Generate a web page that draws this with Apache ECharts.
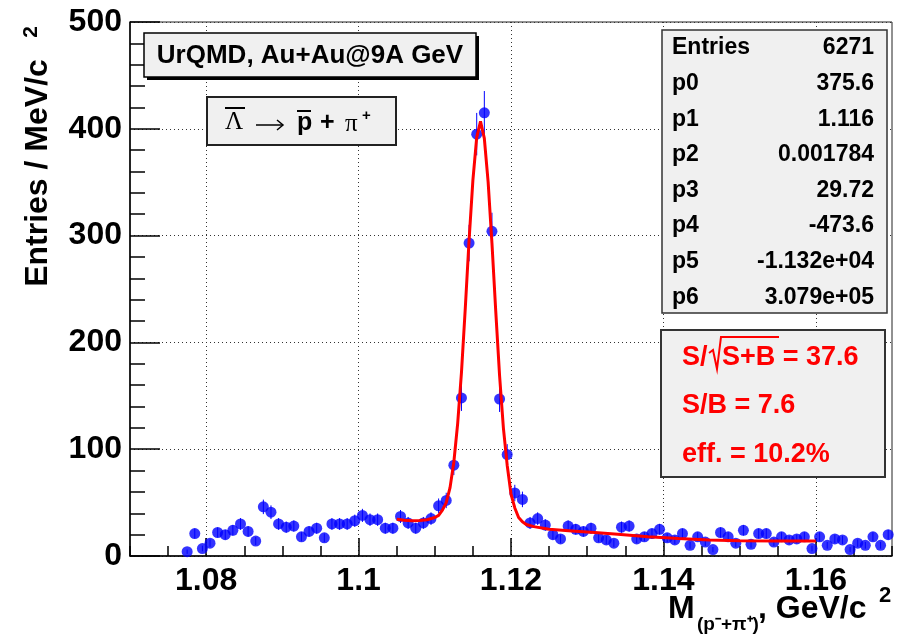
<!DOCTYPE html>
<html><head><meta charset="utf-8">
<script src="https://cdn.jsdelivr.net/npm/echarts@6/dist/echarts.min.js"></script>
<style>html,body{margin:0;padding:0;background:#fff}#c{width:897px;height:642px}</style>
</head><body><div id="c"></div>
<script>
// ---- data ----
const binCenters = [1.0775,1.0785,1.0795,1.0805,1.0815,1.0825,1.0835,1.0845,1.0855,1.0865,
  1.0875,1.0885,1.0895,1.0905,1.0915,1.0925,1.0935,1.0945,1.0955,1.0965,
  1.0975,1.0985,1.0995,1.1005,1.1015,1.1025,1.1035,1.1045,1.1055,1.1065,
  1.1075,1.1085,1.1095,1.1105,1.1115,1.1125,1.1135,1.1145,1.1155,1.1165,
  1.1175,1.1185,1.1195,1.1205,1.1215,1.1225,1.1235,1.1245,1.1255,1.1265,
  1.1275,1.1285,1.1295,1.1305,1.1315,1.1325,1.1335,1.1345,1.1355,1.1365,
  1.1375,1.1385,1.1395,1.1405,1.1415,1.1425,1.1435,1.1445,1.1455,1.1465,
  1.1475,1.1485,1.1495,1.1505,1.1515,1.1525,1.1535,1.1545,1.1555,1.1565,
  1.1575,1.1585,1.1595,1.1605,1.1615,1.1625,1.1635,1.1645,1.1655,1.1665,
  1.1675,1.1685,1.1695];
const entries = [4,21,7,12,22,20,24,30,23,14,
  46,41,30,27,28,18,23,26,17,30,
  30,30,33,38,34,34,26,26,37,31,
  26,31,35,47,52,85,148,293,395,415,
  304,147,95,59,53,31,35,29,20,16,
  28,25,23,26,17,15,12,27,28,16,
  18,21,25,17,15,21,10,18,13,6,
  22,18,12,24,11,21,21,13,18,15,
  16,18,7,18,10,16,15,6,12,10,
  18,10,20];
const fitX = [1.105,1.106,1.107,1.108,1.109,1.110,1.1105,1.111,1.1115,1.112,1.1125,1.113,1.1135,1.114,1.1145,
  1.115,1.1155,1.116,1.1165,1.117,1.1175,1.118,1.1185,1.119,1.1195,1.120,1.1205,1.121,1.1215,1.122,
  1.123,1.125,1.128,1.131,1.134,1.138,1.142,1.146,1.150,1.155,1.160];
const fitY = [34.5,33.5,33,33.2,34,36,38,43,50,64,88,124,172,232,296,
  352,392,407,391,350,293,229,169,120,85,58,45,36,32,29.5,
  27.5,25,23.5,22,20.3,18,16.3,15,14.2,14,14];
const xMajorTicks = [1.08,1.10,1.12,1.14,1.16];
const xMajorLabels = ['1.08','1.1','1.12','1.14','1.16'];
const statsNames = ['Entries','p0','p1','p2','p3','p4','p5','p6'];
const statsValues = ['6271','375.6','1.116','0.001784','29.72','-473.6','-1.132e+04','3.079e+05'];
const sbLines = ['S/B = 7.6','eff. = 10.2%'];

const F = '"Liberation Sans", Arial, Helvetica, sans-serif';
const chart = echarts.init(document.getElementById('c'), null, {renderer:'canvas'});
const pts = binCenters.map((x,i)=>[x, entries[i]]);
const fit = fitX.map((x,i)=>[x, fitY[i]]);

const graphics = [];
// Box 1
graphics.push({type:'rect', shape:{x:147,y:36,width:332,height:44}, style:{fill:'#000'}, z:10});
graphics.push({type:'rect', shape:{x:144,y:33,width:332,height:44}, style:{fill:'#f0f0f0',stroke:'#000',lineWidth:1.5}, z:11});
graphics.push({type:'text', x:310, y:56, z:12, style:{text:'UrQMD, Au+Au@9A GeV', font:'bold 26px '+F, fill:'#000', align:'center', verticalAlign:'middle'}});
// Box 2
graphics.push({type:'rect', shape:{x:207,y:97,width:189,height:48}, style:{fill:'#f0f0f0',stroke:'#222',lineWidth:2}, z:11});
graphics.push({type:'text', x:225, y:122, z:12, style:{text:'Λ', font:'25px "Liberation Serif", serif', fill:'#000', align:'left', verticalAlign:'middle'}});
graphics.push({type:'line', shape:{x1:225,y1:108,x2:245,y2:108}, style:{stroke:'#000',lineWidth:2}, z:12});
graphics.push({type:'line', shape:{x1:256,y1:125,x2:283,y2:125}, style:{stroke:'#000',lineWidth:1.5}, z:12});
graphics.push({type:'polyline', shape:{points:[[277,120],[283,125],[277,130]]}, style:{stroke:'#000',lineWidth:1.5,fill:null}, z:12});
graphics.push({type:'text', x:297, y:123, z:12, style:{text:'p', font:'bold 25px '+F, fill:'#000', align:'left', verticalAlign:'middle'}});
graphics.push({type:'line', shape:{x1:297,y1:111,x2:311,y2:111}, style:{stroke:'#000',lineWidth:2}, z:12});
graphics.push({type:'text', x:320, y:123, z:12, style:{text:'+', font:'bold 25px '+F, fill:'#000', align:'left', verticalAlign:'middle'}});
graphics.push({type:'text', x:345, y:124, z:12, style:{text:'π', font:'25px "Liberation Serif", serif', fill:'#000', align:'left', verticalAlign:'middle'}});
graphics.push({type:'text', x:362, y:116, z:12, style:{text:'+', font:'bold 15px '+F, fill:'#000', align:'left', verticalAlign:'middle'}});
// Stats box
graphics.push({type:'rect', shape:{x:662,y:30,width:225,height:283}, style:{fill:'#f0f0f0',stroke:'#333',lineWidth:1.5}, z:11});
statsNames.forEach((n,i)=>{
  const y = 48 + i*35.6;
  graphics.push({type:'text', x:672, y:y, z:12, style:{text:n, font:'bold 23px '+F, fill:'#000', align:'left', verticalAlign:'middle'}});
  graphics.push({type:'text', x:874, y:y, z:12, style:{text:statsValues[i], font:'bold 23px '+F, fill:'#000', align:'right', verticalAlign:'middle'}});
});
// S/B box
graphics.push({type:'rect', shape:{x:661,y:330,width:224,height:147}, style:{fill:'#f0f0f0',stroke:'#333',lineWidth:2}, z:11});
graphics.push({type:'text', x:682, y:358, z:12, style:{text:'S/', font:'bold 27px '+F, fill:'#ff0000', align:'left', verticalAlign:'middle'}});
graphics.push({type:'polyline', shape:{points:[[709,353],[713,350],[717,369],[721,337],[779,337]]}, style:{stroke:'#ff0000',lineWidth:2,fill:null}, z:12});
graphics.push({type:'text', x:722, y:358, z:12, style:{text:'S+B = 37.6', font:'bold 27px '+F, fill:'#ff0000', align:'left', verticalAlign:'middle'}});
sbLines.forEach((t,i)=>{
  graphics.push({type:'text', x:682, y:406 + i*49, z:12, style:{text:t, font:'bold 27px '+F, fill:'#ff0000', align:'left', verticalAlign:'middle'}});
});
// Y title
graphics.push({type:'text', x:38, y:173, rotation:Math.PI/2, z:12, style:{text:'Entries / MeV/c', font:'bold 32px '+F, fill:'#000', align:'center', verticalAlign:'middle'}});
graphics.push({type:'text', x:31, y:32, rotation:Math.PI/2, z:12, style:{text:'2', font:'bold 21px '+F, fill:'#000', align:'center', verticalAlign:'middle'}});
// X title
graphics.push({type:'text', x:668, y:609, z:12, style:{text:'M', font:'bold 32px '+F, fill:'#000', align:'left', verticalAlign:'middle'}});
graphics.push({type:'text', x:697, y:625, z:12, style:{text:'(p⁻+π⁺)', font:'bold 19px '+F, fill:'#000', align:'left', verticalAlign:'middle'}});
graphics.push({type:'text', x:758, y:609, z:12, style:{text:', GeV/c', font:'bold 32px '+F, fill:'#000', align:'left', verticalAlign:'middle'}});
graphics.push({type:'text', x:879, y:596, z:12, style:{text:'2', font:'bold 22px '+F, fill:'#000', align:'left', verticalAlign:'middle'}});

const option = {
  animation:false,
  backgroundColor:'#fff',
  grid:{left:130, right:5, top:22, bottom:86, show:true, borderColor:'#222', borderWidth:1, containLabel:false, outerBoundsMode:'none'},
  xAxis:[{
    type:'value', min:1.07, max:1.17, position:'bottom',
    axisLine:{show:true, onZero:false, lineStyle:{color:'#000', width:1.5}},
    axisTick:{show:true, inside:true, length:18, customValues:xMajorTicks, lineStyle:{color:'#000', width:1.5}},
    axisLabel:{show:true, customValues:xMajorTicks, margin:9, color:'#000', fontSize:32, fontWeight:'bold', fontFamily:F,
      formatter:(v)=>{ const i = xMajorTicks.findIndex(t=>Math.abs(t-v)<1e-6); return i>=0 ? xMajorLabels[i] : ''; }},
    splitLine:{show:true, lineStyle:{type:[1,3], color:'#333', width:1}}
  },{
    type:'value', min:1.07, max:1.17, interval:0.005, position:'bottom',
    axisLine:{show:false, onZero:false},
    axisTick:{show:true, inside:true, length:10, lineStyle:{color:'#000', width:1.5}},
    axisLabel:{show:false}, splitLine:{show:false}
  }],
  yAxis:[{
    type:'value', min:0, max:500, interval:100,
    axisLine:{show:true, onZero:false, lineStyle:{color:'#000', width:1.5}},
    axisTick:{show:true, inside:true, length:30, lineStyle:{color:'#000', width:1.5}},
    minorTick:{show:true, splitNumber:5, length:15, lineStyle:{color:'#000', width:1.5}},
    axisLabel:{show:true, margin:8, color:'#000', fontSize:32, fontWeight:'bold', fontFamily:F},
    splitLine:{show:true, lineStyle:{type:[1,3], color:'#333', width:1}}
  }],
  series:[
    {type:'custom', xAxisIndex:0, yAxisIndex:0, z:3, data:pts, clip:true,
      renderItem:(params, api)=>{
        const x = api.value(0), y = api.value(1), e = Math.sqrt(y);
        const p1 = api.coord([x, Math.max(0, y-e)]), p2 = api.coord([x, y+e]);
        return {type:'line', shape:{x1:p1[0], y1:p1[1], x2:p2[0], y2:p2[1]}, style:{stroke:'#0000ff', lineWidth:1}};
      }},
    {type:'scatter', xAxisIndex:0, yAxisIndex:0, z:4, data:pts, symbol:'circle', symbolSize:11, itemStyle:{color:'#0000ff'}},
    {type:'line', xAxisIndex:0, yAxisIndex:0, z:5, data:fit, showSymbol:false, symbol:'none', smooth:false,
      lineStyle:{color:'#ff0000', width:3}}
  ],
  graphic:graphics
};
chart.setOption(option);
</script></body></html>
